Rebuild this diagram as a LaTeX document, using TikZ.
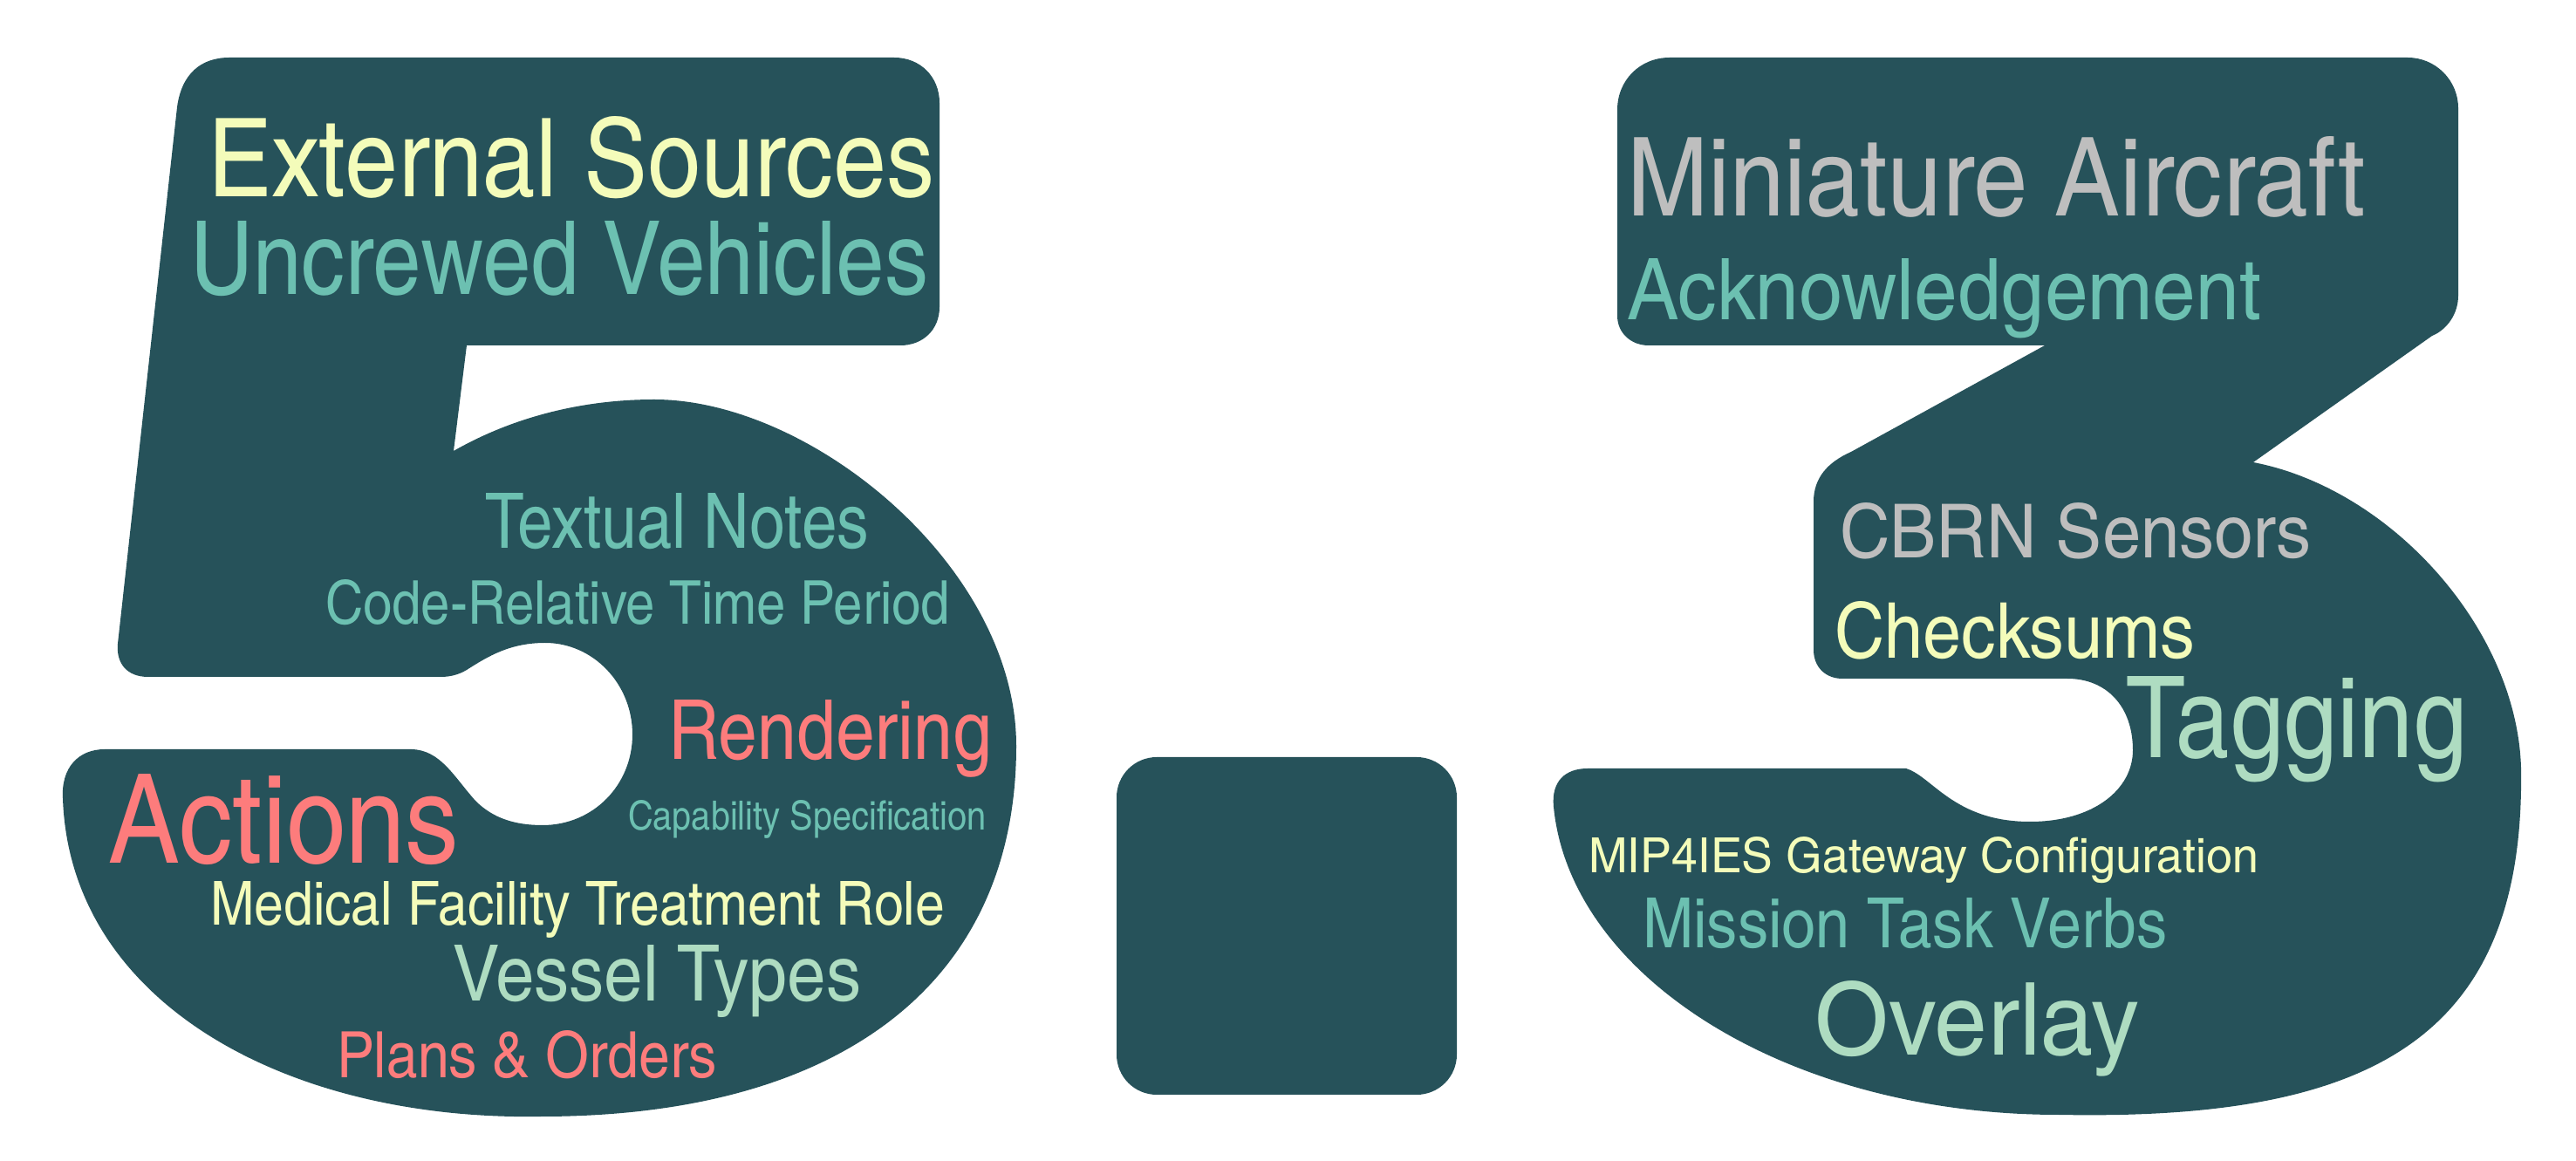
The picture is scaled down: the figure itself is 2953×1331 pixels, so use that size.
\documentclass[tikz,border=0pt]{standalone}
\usepackage{fontspec}
\setmainfont{texgyreheroscn-regular.otf}
\usepackage{graphicx}
\usepackage{tikz}

\newlength\pxunit
\setlength\pxunit{0.01cm}
\definecolor{digitfill}{HTML}{26525A}
\definecolor{wordyellow}{HTML}{F4FCBA}
\definecolor{wordteal}{HTML}{6CC0B1}
\definecolor{wordsalmon}{HTML}{FD7C7C}
\definecolor{wordmint}{HTML}{AEDCC1}
\definecolor{wordgrey}{HTML}{BEBEBE}

\begin{document}
\begin{tikzpicture}[x=0.01cm,y=-0.01cm,
    digit/.style={fill=digitfill,draw=none},
    word/.style={inner sep=0pt,outer sep=0pt,anchor=base west}]
  \useasboundingbox (0,0) rectangle (2953,1331);
  % name, left, baseline, width, cap height, colour, text
  \def\word#1#2#3#4#5#6#7{
    \node[word,text=#6] (#1) at (#2,#3) {\resizebox{#4\pxunit}{#5\pxunit}{#7}};
  }
  % the 5
  \fill[digit] (203,123) .. controls (208,85) and (230,66) .. (263,66)
    -- (1025,66) .. controls (1055,66) and (1077,88) .. (1077,118)
    -- (1077,352) .. controls (1077,378) and (1058,396) .. (1032,396)
    -- (535,396) -- (520,517)
    .. controls (590,477) and (670,458) .. (750,458)
    .. controls (930,458) and (1165,650) .. (1165,855)
    .. controls (1165,1130) and (960,1280) .. (620,1280)
    .. controls (330,1285) and (80,1150) .. (72,915)
    .. controls (70,880) and (90,859) .. (120,859)
    -- (472,859)
    .. controls (505,860) and (520,890) .. (545,918)
    .. controls (565,938) and (590,946) .. (622,946)
    .. controls (680,946) and (725,900) .. (725,842)
    .. controls (725,784) and (680,737) .. (625,737)
    .. controls (585,737) and (560,752) .. (535,768)
    .. controls (525,774) and (515,776) .. (505,776)
    -- (170,776) .. controls (145,776) and (133,760) .. (135,738)
    -- cycle;
  % the point
  \fill[digit,rounded corners=0.46cm] (1280,868) rectangle (1670,1255);
  % the 3
  \fill[digit] (1854,126) .. controls (1854,92) and (1880,66) .. (1914,66)
    -- (2760,66) .. controls (2792,66) and (2818,92) .. (2818,124)
    -- (2818,339) .. controls (2818,360) and (2805,378) .. (2788,385)
    -- (2583,530)
    .. controls (2740,560) and (2885,720) .. (2890,880)
    .. controls (2895,1190) and (2720,1285) .. (2360,1278)
    .. controls (2050,1278) and (1800,1120) .. (1781,925)
    .. controls (1778,895) and (1795,881) .. (1820,881)
    -- (2185,881)
    .. controls (2215,890) and (2240,942) .. (2327,942)
    .. controls (2400,942) and (2445,905) .. (2445,860)
    .. controls (2445,810) and (2415,778) .. (2370,778)
    -- (2112,778) .. controls (2093,778) and (2079,765) .. (2079,745)
    -- (2079,575) .. controls (2079,548) and (2095,530) .. (2122,518)
    -- (2344,396)
    -- (1890,396) .. controls (1870,396) and (1854,382) .. (1854,362)
    -- cycle;
  % words in the 5
  \word{extsrc}{238}{226}{833}{92}{wordyellow}{External Sources}
  \word{uncrewed}{218}{338}{846}{84}{wordteal}{Uncrewed Vehicles}
  \word{textual}{556}{629}{440}{63}{wordteal}{Textual Notes}
  \word{codetime}{373}{716}{716}{51}{wordteal}{Code-Relative Time Period}
  \word{rendering}{766}{871}{371}{68}{wordsalmon}{Rendering}
  \word{capspec}{720}{952}{411}{34}{wordteal}{Capability Specification}
  \word{actions}{125}{990}{401}{102}{wordsalmon}{Actions}
  \word{medical}{241}{1061}{842}{50}{wordyellow}{Medical Facility Treatment Role}
  \word{vessel}{519}{1147}{468}{64}{wordmint}{Vessel Types}
  \word{plans}{386}{1235}{436}{54}{wordsalmon}{Plans \& Orders}
  % words in the 3
  \word{miniature}{1865}{248}{846}{91}{wordgrey}{Miniature Aircraft}
  \word{ack}{1865}{367}{727}{70}{wordteal}{Acknowledgement}
  \word{cbrn}{2109}{640}{540}{63}{wordgrey}{CBRN Sensors}
  \word{checksums}{2103}{755}{413}{65}{wordyellow}{Checksums}
  \word{tagging}{2437}{869}{391}{93}{wordmint}{Tagging}
  \word{mip}{1821}{1001}{768}{41}{wordyellow}{MIP4IES Gateway Configuration}
  \word{mission}{1883}{1087}{601}{57}{wordteal}{Mission Task Verbs}
  \word{overlay}{2080}{1210}{372}{85}{wordmint}{Overlay}
\end{tikzpicture}
\end{document}
